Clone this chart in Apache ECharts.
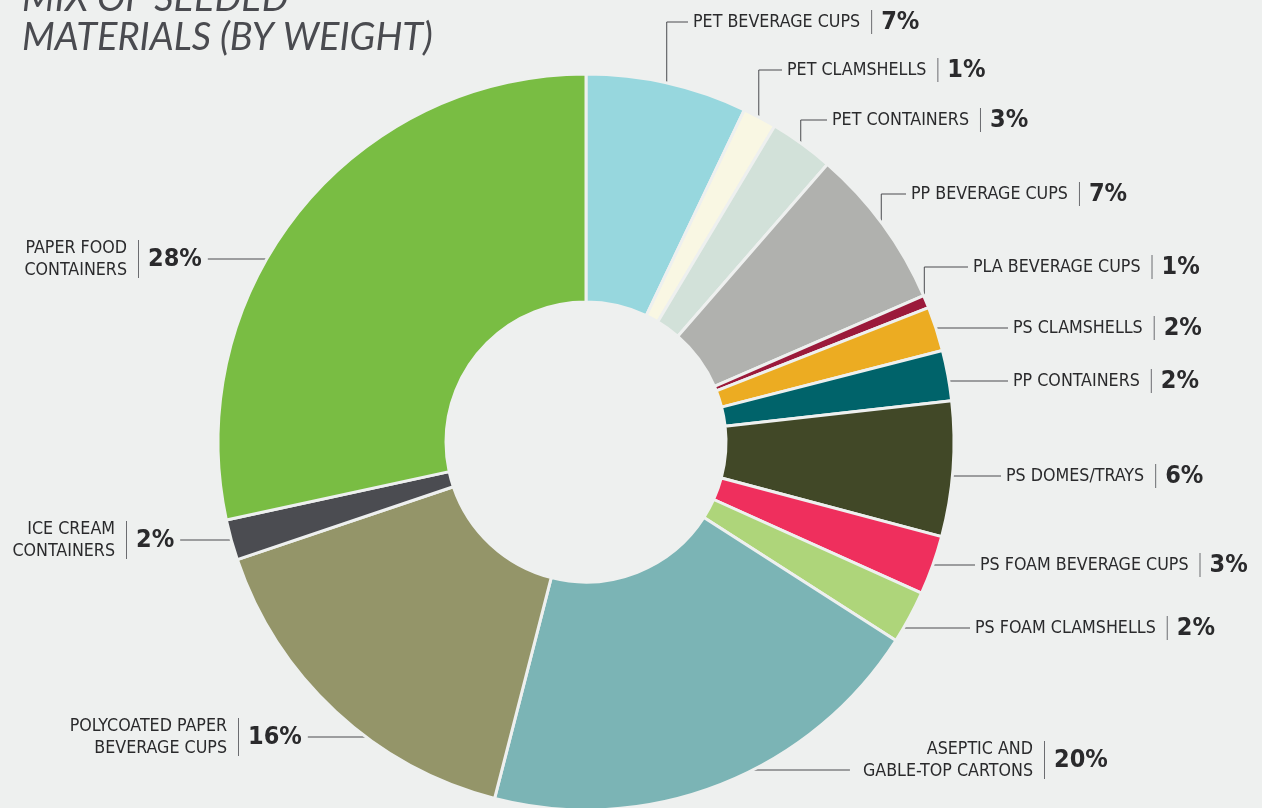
<!DOCTYPE html>
<html>
<head>
<meta charset="utf-8">
<script src="https://cdn.jsdelivr.net/npm/echarts/dist/echarts.min.js"></script>
<style>
	html, body { margin: 0; padding: 0; background: #eef0ef; }
	#main { width: 1262px; height: 808px; }
</style>
</head>
<body>
<div id="main"></div>
<script>
// slices, clockwise from 12 o'clock
var categories = ['PET BEVERAGE CUPS', 'PET CLAMSHELLS', 'PET CONTAINERS', 'PP BEVERAGE CUPS', 'PLA BEVERAGE CUPS',
	'PS CLAMSHELLS', 'PP CONTAINERS', 'PS DOMES/TRAYS', 'PS FOAM BEVERAGE CUPS', 'PS FOAM CLAMSHELLS',
	'ASEPTIC AND\nGABLE-TOP CARTONS', 'POLYCOATED PAPER\nBEVERAGE CUPS', 'ICE CREAM\nCONTAINERS', 'PAPER FOOD\nCONTAINERS'];
var shares = [7.08, 1.49, 2.82, 7.10, 0.56, 1.95, 2.21, 5.93, 2.60, 2.33, 19.93, 15.83, 1.78, 28.40];
var shareLabels = ['7%', '1%', '3%', '7%', '1%', '2%', '2%', '6%', '3%', '2%', '20%', '16%', '2%', '28%'];
var colors = ['#97d7de', '#f9f7e3', '#d2e1d9', '#b0b1ae', '#9b1a3b', '#ecac22', '#00636a',
	'#414827', '#ef2f5d', '#aed57a', '#7bb4b5', '#949569', '#4b4c51', '#79bd43'];

// where each label sits (text anchor) and how its leader line runs
var labelSpots = [
	{ x: 693, y: 22, kind: 'elbow' },
	{ x: 787, y: 70, kind: 'elbow' },
	{ x: 832, y: 120, kind: 'elbow' },
	{ x: 911, y: 194, kind: 'elbow' },
	{ x: 973, y: 267, kind: 'elbow' },
	{ x: 1013, y: 328, kind: 'flat' },
	{ x: 1013, y: 381, kind: 'flat' },
	{ x: 1006, y: 476, kind: 'flat' },
	{ x: 980, y: 565, kind: 'flat' },
	{ x: 975, y: 628, kind: 'flat' },
	{ x: 1033, y: 760, kind: 'stackR' },
	{ x: 227, y: 737, kind: 'stackL' },
	{ x: 115, y: 540, kind: 'stackL' },
	{ x: 127, y: 259, kind: 'stackL' }
];

var BG = '#eef0ef';
var CX = 586, CY = 442, R_EDGE = 366;
var TEXT = '#2a2a2c', LINE = '#4a4b4f';
var FONT = "'Liberation Sans Narrow', 'DejaVu Sans Condensed', 'Roboto', sans-serif";

var total = shares.reduce(function(a, b) { return a + b; }, 0);

function midPoint(i) {
	var before = 0;
	for (var k = 0; k < i; k++) before += shares[k];
	var a = (before + shares[i] / 2) / total * Math.PI * 2;
	return [CX + R_EDGE * Math.sin(a), CY - R_EDGE * Math.cos(a)];
}

function edgeX(y, dir) {
	var dy = y - CY;
	return CX + dir * Math.sqrt(R_EDGE * R_EDGE - dy * dy);
}

function isStack(i) {
	return labelSpots[i].kind === 'stackR' || labelSpots[i].kind === 'stackL';
}

var richText = {
	n: { fontFamily: FONT, fontSize: 17.7, color: TEXT, lineHeight: 22 },
	g1: { width: 11 },
	g2: { width: 9 },
	s: { width: 1, height: 24, backgroundColor: '#6b6c70' },
	s2: { width: 1, height: 38, backgroundColor: '#6b6c70' },
	p: { fontFamily: FONT, fontSize: 25, fontWeight: 'bold', color: TEXT, lineHeight: 30 }
};

var nameData = categories.map(function(c, i) {
	return {
		name: c,
		value: shares[i],
		itemStyle: { color: colors[i] },
		labelLine: { show: labelSpots[i].kind !== 'stackL' }
	};
});

var pctData = categories.map(function(c, i) {
	return {
		name: c,
		value: shares[i],
		label: { show: isStack(i) },
		labelLine: { show: labelSpots[i].kind === 'stackL' }
	};
});

var chart = echarts.init(document.getElementById('main'));

var option = {
	backgroundColor: BG,
	animation: false,
	title: {
		text: 'MIX OF SEEDED\nMATERIALS (BY WEIGHT)',
		left: 17,
		top: -26,
		textStyle: {
			fontFamily: 'Lato',
			fontStyle: 'italic',
			fontWeight: 'normal',
			fontSize: 38,
			lineHeight: 39,
			color: '#4a4b50'
		}
	},
	series: [{
		name: 'materials',
		type: 'pie',
		center: [CX, CY],
		radius: [140, 368],
		startAngle: 90,
		avoidLabelOverlap: false,
		silent: true,
		itemStyle: { borderColor: BG, borderWidth: 3 },
		label: {
			show: true,
			position: 'outside',
			formatter: function(p) {
				var i = p.dataIndex;
				if (isStack(i)) {
					return categories[i].split('\n').map(function(l) { return '{n|' + l + '}'; }).join('\n');
				}
				return '{n|' + categories[i] + '}{g1|}{s|}{g2|}{p|' + shareLabels[i] + '}';
			},
			rich: richText
		},
		labelLine: {
			show: true,
			length: 10,
			length2: 10,
			smooth: false,
			lineStyle: { color: LINE, width: 1 }
		},
		labelLayout: function(params) {
			var i = params.dataIndex;
			var s = labelSpots[i];
			var w = params.labelRect.width;
			if (s.kind === 'elbow') {
				var p0 = midPoint(i);
				return { x: s.x, y: s.y, align: 'left', verticalAlign: 'middle',
					labelLinePoints: [p0, [p0[0], s.y], [s.x - 5, s.y]] };
			}
			if (s.kind === 'flat') {
				return { x: s.x, y: s.y, align: 'left', verticalAlign: 'middle',
					labelLinePoints: [[edgeX(s.y, 1), s.y], [s.x - 5, s.y], [s.x - 5, s.y]] };
			}
			if (s.kind === 'stackR') {
				var yl = s.y + 10;
				return { x: s.x, y: s.y, align: 'right', verticalAlign: 'middle',
					labelLinePoints: [[edgeX(yl, 1), yl], [s.x - w - 13, yl], [s.x - w - 13, yl]] };
			}
			return { x: s.x, y: s.y, align: 'right', verticalAlign: 'middle' };
		},
		data: nameData
	}, {
		name: 'shares',
		type: 'pie',
		center: [CX, CY],
		radius: [140, 368],
		startAngle: 90,
		avoidLabelOverlap: false,
		silent: true,
		itemStyle: { color: 'rgba(0,0,0,0)', borderWidth: 0 },
		label: {
			position: 'outside',
			formatter: function(p) {
				return '{s2|}{g2|}{p|' + shareLabels[p.dataIndex] + '}';
			},
			rich: richText
		},
		labelLine: {
			length: 10,
			length2: 10,
			smooth: false,
			lineStyle: { color: LINE, width: 1 }
		},
		labelLayout: function(params) {
			var i = params.dataIndex;
			var s = labelSpots[i];
			var w = params.labelRect.width;
			var left = s.x + 11;
			var out = { x: left, y: s.y, align: 'left', verticalAlign: 'middle' };
			if (s.kind === 'stackL') {
				var yl = s.y;
				out.labelLinePoints = [[left + w + 6, yl], [edgeX(yl, -1), yl], [edgeX(yl, -1), yl]];
			}
			return out;
		},
		data: pctData
	}]
};

chart.setOption(option);
</script>
</body>
</html>
